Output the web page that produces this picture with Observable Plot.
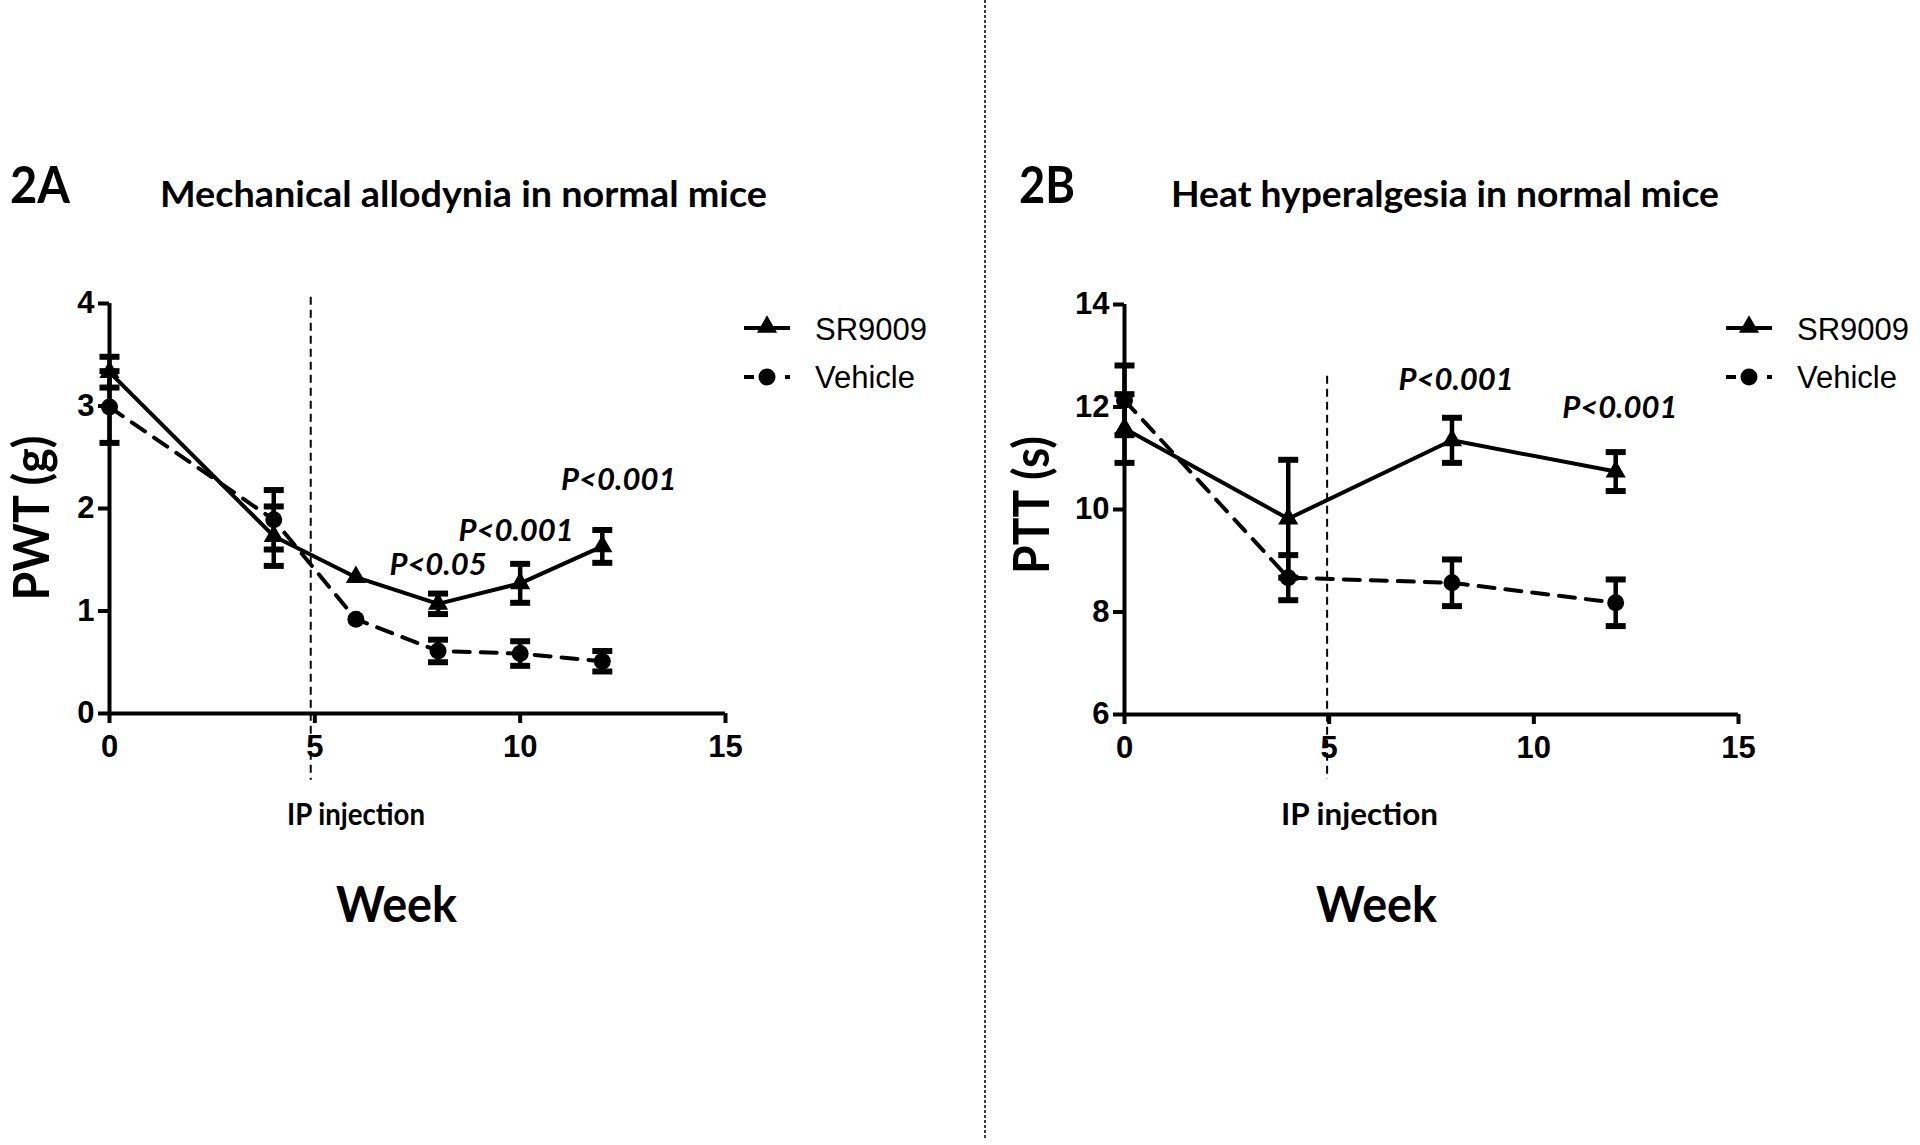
<!DOCTYPE html>
<html>
<head>
<meta charset="utf-8">
<script src="https://cdn.jsdelivr.net/npm/d3@7"></script>
<script src="https://cdn.jsdelivr.net/npm/@observablehq/plot@0.6"></script>
<style>
html, body { margin: 0; padding: 0; background: #fff; }
#root { position: relative; width: 1920px; height: 1145px; overflow: hidden; background: #fff; }
#root > svg { position: absolute; }
</style>
</head>
<body>
<div id="root"></div>
<script>
// ---------- data ----------
const weeksA = [0, 4, 6, 8, 10, 12];
const sr9009A = [3.33, 1.73, 1.33, 1.07, 1.27, 1.63];
const sr9009AErr = [0.15, 0.29, 0, 0.10, 0.19, 0.16];
const vehicleA = [2.99, 1.89, 0.92, 0.61, 0.585, 0.51];
const vehicleAErr = [0.35, 0.29, 0, 0.11, 0.12, 0.10];

const weeksB = [0, 4, 8, 12];
const sr9009B = [11.58, 9.82, 11.35, 10.74];
const sr9009BErr = [0.67, 1.15, 0.44, 0.38];
const vehicleB = [12.13, 8.67, 8.57, 8.18];
const vehicleBErr = [0.68, 0.44, 0.455, 0.455];

const pWeeksA = [8, 9.9, 12.4];
const pValuesA = [1.45, 1.78, 2.28];
const pLabelsA = ["P<0.05", "P<0.001", "P<0.001"];
const pWeeksB = [8.1, 12.1];
const pValuesB = [12.53, 11.98];
const pLabelsB = ["P<0.001", "P<0.001"];

const injectionWeekA = 4.9;
const injectionWeekB = 4.95;

const xTicks = [0, 5, 10, 15];
const yTicksA = [0, 1, 2, 3, 4];
const yTicksB = [6, 8, 10, 12, 14];

const seriesNames = ["SR9009", "Vehicle"];
const titlesA = ["2A", "Mechanical allodynia in normal mice", "PWT (g)"];
const titlesB = ["2B", "Heat hyperalgesia in normal mice", "PTT (s)"];
const injectionLabel = "IP injection";
const xLabel = "Week";

// ---------- helpers ----------
const capSymbol = {
  draw(context, size) {
    const r = Math.sqrt(size / Math.PI);
    context.moveTo(-r, 0);
    context.lineTo(r, 0);
  }
};

function rows(weeks, means, errs) {
  return weeks.map((w, i) => ({week: w, mean: means[i], err: errs[i], lo: means[i] - errs[i], hi: means[i] + errs[i]}));
}
function caps(r) {
  const out = [];
  for (const d of r) if (d.err > 0) { out.push({week: d.week, v: d.lo}); out.push({week: d.week, v: d.hi}); }
  return out;
}

function panel(cfg) {
  const sr = rows(cfg.weeks, cfg.sr, cfg.srErr);
  const veh = rows(cfg.weeks, cfg.veh, cfg.vehErr);
  const pRows = cfg.pWeeks.map((w, i) => ({week: w, v: cfg.pValues[i], label: cfg.pLabels[i]}));
  const [y0, y1] = cfg.yDomain;
  return Plot.plot({
    width: cfg.width,
    height: 1145,
    marginLeft: cfg.marginLeft,
    marginRight: cfg.marginRight,
    marginTop: cfg.marginTop,
    marginBottom: cfg.marginBottom,
    x: {domain: [0, 15], axis: null},
    y: {domain: cfg.yDomain, axis: null},
    style: {fontFamily: "'Liberation Sans', Arial, sans-serif", fontWeight: "bold", fontSize: "31px", background: "transparent", overflow: "visible", color: "black"},
    marks: [
      Plot.axisX({ticks: xTicks, tickSize: 10, tickPadding: 11, strokeWidth: 4, fontSize: 31, fontWeight: "bold", label: null, tickFormat: d => String(d)}),
      Plot.axisY({ticks: cfg.yTicks, tickSize: 11, tickPadding: 4, strokeWidth: 4, fontSize: 31, fontWeight: "bold", label: null, tickFormat: d => String(d)}),
      Plot.ruleX([0], {y1: () => y0, y2: () => y1, strokeWidth: 4}),
      Plot.ruleY([y0], {x1: () => 0, x2: () => 15, strokeWidth: 4}),
      Plot.ruleX([cfg.injection], {y1: () => cfg.injTop, y2: () => cfg.injBottom, strokeWidth: 2, strokeDasharray: "8,5"}),
      Plot.line(veh, {x: "week", y: "mean", stroke: "black", strokeWidth: 4, strokeDasharray: "16,11"}),
      Plot.line(sr, {x: "week", y: "mean", stroke: "black", strokeWidth: 4}),
      Plot.ruleX(veh.filter(d => d.err > 0), {x: "week", y1: "lo", y2: "hi", strokeWidth: 4.5}),
      Plot.ruleX(sr.filter(d => d.err > 0), {x: "week", y1: "lo", y2: "hi", strokeWidth: 4.5}),
      Plot.dot(caps(veh), {x: "week", y: "v", r: 10, symbol: capSymbol, stroke: "black", fill: "none", strokeWidth: 6}),
      Plot.dot(caps(sr), {x: "week", y: "v", r: 10, symbol: capSymbol, stroke: "black", fill: "none", strokeWidth: 6}),
      Plot.dot(veh, {x: "week", y: "mean", r: 8.5, fill: "black"}),
      Plot.dot(sr, {x: "week", y: "mean", r: 7.5, symbol: "triangle", fill: "black"}),
      Plot.text(pRows, {x: "week", y: "v", text: "label", fontFamily: "Lato, 'Open Sans', sans-serif", fontStyle: "italic", fontWeight: "bold", fontSize: 31})
    ]
  });
}

const root = document.getElementById("root");

const chartA = panel({
  weeks: weeksA, sr: sr9009A, srErr: sr9009AErr, veh: vehicleA, vehErr: vehicleAErr,
  pWeeks: pWeeksA, pValues: pValuesA, pLabels: pLabelsA,
  yDomain: [0, 4], yTicks: yTicksA, injection: injectionWeekA, injTop: 4.06, injBottom: -0.65,
  width: 960, marginLeft: 109, marginRight: 235, marginTop: 303, marginBottom: 432
});
chartA.style.left = "0px"; chartA.style.top = "0px";
root.appendChild(chartA);

const chartB = panel({
  weeks: weeksB, sr: sr9009B, srErr: sr9009BErr, veh: vehicleB, vehErr: vehicleBErr,
  pWeeks: pWeeksB, pValues: pValuesB, pLabels: pLabelsB,
  yDomain: [6, 14], yTicks: yTicksB, injection: injectionWeekB, injTop: 12.6, injBottom: 4.73,
  width: 930, marginLeft: 134, marginRight: 182, marginTop: 304, marginBottom: 431
});
chartB.style.left = "990px"; chartB.style.top = "0px";
root.appendChild(chartB);

// ---------- overlay: titles, labels, legends, divider ----------
const NS = "http://www.w3.org/2000/svg";
const ov = document.createElementNS(NS, "svg");
ov.setAttribute("width", 1920); ov.setAttribute("height", 1145);
ov.style.left = "0px"; ov.style.top = "0px"; ov.style.pointerEvents = "none";
root.appendChild(ov);

function el(name, attrs, text) {
  const e = document.createElementNS(NS, name);
  for (const k in attrs) e.setAttribute(k, attrs[k]);
  if (text != null) e.textContent = text;
  ov.appendChild(e);
  return e;
}
const LATO = "Lato, 'Open Sans', sans-serif";
const ARIAL = "'Liberation Sans', Arial, sans-serif";
function label(txt, x, y, size, len, extra = {}) {
  const a = Object.assign({x, y, "font-family": LATO, "font-weight": "bold", "font-size": size}, extra);
  if (len) { a.textLength = len; a.lengthAdjust = "spacingAndGlyphs"; }
  return el("text", a, txt);
}

// divider
el("line", {x1: 985, x2: 985, y1: 0, y2: 1138, stroke: "black", "stroke-width": 1.5, "stroke-dasharray": "3,2"});

// panel titles
label(titlesA[0], 10, 203, 51, 60);
label(titlesA[1], 160, 207, 36, 607);
label(titlesB[0], 1019, 203, 51, 56);
label(titlesB[1], 1171, 207, 36, 548);

// injection and x labels
label(injectionLabel, 287, 825, 30, 138);
label(injectionLabel, 1281, 825, 30, 157);
label(xLabel, 336, 922, 49, 121);
label(xLabel, 1316, 922, 49, 121);

// y labels (rotated)
label(titlesA[2], 0, 0, 50, 165, {transform: "translate(49,518) rotate(-90)", "text-anchor": "middle"});
label(titlesB[2], 0, 0, 50, 138, {transform: "translate(1049,505) rotate(-90)", "text-anchor": "middle"});

// legends
function legend(x0) {
  const yr1 = 328, yr2 = 377;
  el("line", {x1: x0, x2: x0 + 46, y1: yr1, y2: yr1, stroke: "black", "stroke-width": 4});
  const cx = x0 + 23;
  el("path", {d: d3.symbol(d3.symbolTriangle, Math.PI * 7.5 * 7.5)(), transform: `translate(${cx},${yr1 - 1})`, fill: "black"});
  el("line", {x1: x0, x2: x0 + 10, y1: yr2, y2: yr2, stroke: "black", "stroke-width": 4});
  el("circle", {cx, cy: yr2, r: 8.5, fill: "black"});
  el("line", {x1: x0 + 41, x2: x0 + 46, y1: yr2, y2: yr2, stroke: "black", "stroke-width": 4});
  el("text", {x: x0 + 71, y: 340, "font-family": ARIAL, "font-size": 31}, seriesNames[0]);
  el("text", {x: x0 + 71, y: 388, "font-family": ARIAL, "font-size": 31}, seriesNames[1]);
}
legend(744);
legend(1726);
</script>
</body>
</html>
